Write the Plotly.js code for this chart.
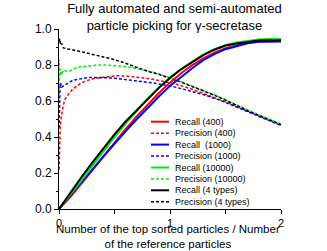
<!DOCTYPE html>
<html>
<head>
<meta charset="utf-8">
<script src="https://cdn.plot.ly/plotly-3.0.1.min.js"></script>
<style>html,body{margin:0;padding:0;background:#fff;}#chart{width:327px;height:251px;}</style>
</head>
<body>
<div id="chart"></div>
<script>
// ---- Data ----
const seriesNames = ['400', '1000', '10000', '4 types'];
const legendLabels = ['Recall (400)', 'Precision (400)', 'Recall  (1000)', 'Precision (1000)',
                      'Recall (10000)', 'Precision (10000)', 'Recall (4 types)', 'Precision (4 types)'];
const xTitle = 'Number of the top sorted particles / Number<br>of the reference particles';

// Recall curves (solid)
const recallX = [0, 0.1, 0.2, 0.3, 0.4, 0.5, 0.6, 0.7, 0.8, 0.9, 1.0, 1.1, 1.2, 1.3, 1.4, 1.5, 1.6, 1.7, 1.8, 1.9, 2.0];
const recall400   = [0, 0.065, 0.14, 0.217, 0.293, 0.37, 0.443, 0.514, 0.581, 0.644, 0.702, 0.754, 0.799, 0.837, 0.868, 0.893, 0.909, 0.923, 0.931, 0.933, 0.933];
const recall1000  = [0, 0.071, 0.145, 0.219, 0.292, 0.364, 0.432, 0.498, 0.563, 0.625, 0.684, 0.735, 0.782, 0.827, 0.86, 0.888, 0.906, 0.921, 0.929, 0.93, 0.93];
const recall10000 = [0, 0.077, 0.158, 0.239, 0.32, 0.399, 0.475, 0.547, 0.614, 0.675, 0.73, 0.778, 0.82, 0.858, 0.888, 0.91, 0.925, 0.933, 0.941, 0.944, 0.944];
const recall4types = [0, 0.089, 0.175, 0.258, 0.339, 0.415, 0.486, 0.55, 0.612, 0.673, 0.728, 0.776, 0.816, 0.855, 0.885, 0.908, 0.92, 0.928, 0.936, 0.937, 0.938];

// Precision curves (dashed)
const prec400X = [0.002, 0.005, 0.01, 0.02, 0.03, 0.04, 0.055, 0.07, 0.1, 0.13, 0.16, 0.2, 0.25, 0.3, 0.37, 0.45, 0.52, 0.6, 0.68, 0.76, 0.85, 0.93, 1.03, 1.18, 1.33, 1.48, 1.63, 1.72, 1.8, 1.9, 2.0];
const prec400  = [0.22, 0.34, 0.44, 0.51, 0.55, 0.58, 0.61, 0.625, 0.65, 0.67, 0.685, 0.70, 0.713, 0.722, 0.73, 0.737, 0.74, 0.739, 0.735, 0.728, 0.72, 0.712, 0.698, 0.67, 0.637, 0.6, 0.561, 0.538, 0.517, 0.491, 0.466];

const prec1000X = [0, 0.003, 0.006, 0.01, 0.015, 0.02, 0.03, 0.054, 0.084, 0.11, 0.14, 0.19, 0.26, 0.33, 0.41, 0.5, 0.56, 0.64, 0.71, 0.77, 0.85, 0.91, 1.03, 1.18, 1.33, 1.48, 1.63, 1.72, 1.8, 1.9, 2.0];
const prec1000  = [0.45, 0.6, 0.65, 0.69, 0.70, 0.674, 0.68, 0.689, 0.704, 0.71, 0.717, 0.724, 0.73, 0.731, 0.73, 0.727, 0.722, 0.717, 0.711, 0.707, 0.70, 0.693, 0.68, 0.656, 0.63, 0.597, 0.559, 0.537, 0.516, 0.49, 0.464];

const prec10000X = [0, 0.002, 0.005, 0.01, 0.015, 0.02, 0.03, 0.045, 0.06, 0.084, 0.11, 0.14, 0.19, 0.26, 0.33, 0.41, 0.5, 0.56, 0.64, 0.71, 0.77, 0.85, 0.9, 1.0, 1.1, 1.2, 1.3, 1.4, 1.5, 1.6, 1.7, 1.8, 1.9, 2.0];
const prec10000  = [0.6, 0.83, 0.72, 0.78, 0.763, 0.744, 0.755, 0.772, 0.768, 0.763, 0.77, 0.78, 0.79, 0.796, 0.799, 0.80, 0.798, 0.794, 0.788, 0.78, 0.772, 0.76, 0.75, 0.73, 0.707, 0.683, 0.66, 0.634, 0.607, 0.578, 0.549, 0.523, 0.497, 0.472];

const prec4typesX = [0.003, 0.008, 0.015, 0.025, 0.04, 0.06, 0.08, 0.1, 0.14, 0.2, 0.26, 0.33, 0.41, 0.48, 0.56, 0.64, 0.71, 0.8, 0.9, 1.0, 1.1, 1.2, 1.3, 1.4, 1.5, 1.6, 1.7, 1.8, 1.9, 2.0];
const prec4types  = [0.93, 0.945, 0.91, 0.92, 0.895, 0.89, 0.889, 0.887, 0.883, 0.874, 0.865, 0.856, 0.846, 0.833, 0.818, 0.8, 0.782, 0.765, 0.748, 0.728, 0.705, 0.68, 0.658, 0.632, 0.605, 0.575, 0.546, 0.52, 0.493, 0.469];

const xTickVals = [0, 1, 2];
const xTickText = ['0', '1', '2'];
const yTickVals = [0, 0.2, 0.4, 0.6, 0.8, 1.0];
const yTickText = ['0.0', '0.2', '0.4', '0.6', '0.8', '1.0'];

// ---- Styles ----
const colors = ['#ff0000', '#0000ff', '#00ee00', '#000000'];
const FONT = '"Liberation Sans", Arial, sans-serif';

const recallYs = [recall400, recall1000, recall10000, recall4types];
const precXs = [prec400X, prec1000X, prec10000X, prec4typesX];
const precYs = [prec400, prec1000, prec10000, prec4types];

const traces = [];
for (let i = 0; i < 4; i++) {
  traces.push({x: precXs[i], y: precYs[i], mode: 'lines', type: 'scatter',
    name: legendLabels[2*i+1], line: {color: colors[i], width: 1.5, dash: '3px,2px'}, showlegend: false});
}
for (let i = 0; i < 4; i++) {
  traces.push({x: recallX, y: recallYs[i], mode: 'lines', type: 'scatter',
    name: legendLabels[2*i], line: {color: colors[i], width: 2}, showlegend: false});
}

// plot area in pixels
const L = 59, R = 281, T = 29, B = 209;
const px2paperX = p => (p - L) / (R - L);
const px2paperY = p => (B - p) / (B - T);

const legendRowY = [121.7, 133.2, 144.6, 156, 167.5, 178.9, 190.3, 201.7];
const shapes = [], annotations = [];
for (let k = 0; k < 8; k++) {
  const c = colors[Math.floor(k/2)];
  const solid = (k % 2 === 0);
  shapes.push({type: 'line', xref: 'paper', yref: 'paper',
    x0: px2paperX(151), x1: px2paperX(169), y0: px2paperY(legendRowY[k]), y1: px2paperY(legendRowY[k]),
    line: {color: c, width: solid ? 2 : 1.5, dash: solid ? 'solid' : '3px,2px'}});
  annotations.push({xref: 'paper', yref: 'paper', x: px2paperX(173), y: px2paperY(legendRowY[k]),
    xanchor: 'left', yanchor: 'middle', text: legendLabels[k], showarrow: false,
    font: {family: FONT, size: 9, color: '#000'}});
}
// x-axis title, placed tight under the tick labels as in the reference
annotations.push({xref: 'paper', yref: 'paper', x: px2paperX(168), y: px2paperY(251),
  xanchor: 'center', yanchor: 'bottom', text: xTitle, showarrow: false, borderpad: 0,
  font: {family: FONT, size: 11.5, color: '#000'}});

const layout = {
  width: 327, height: 251,
  margin: {l: L, r: 327 - R, t: T, b: 251 - B, pad: 0},
  paper_bgcolor: '#fff', plot_bgcolor: '#fff',
  font: {family: FONT, size: 12, color: '#000'},
  showlegend: false,
  title: {text: 'Fully automated and semi-automated<br>particle picking for γ-secretase',
    font: {family: FONT, size: 13, color: '#000'},
    xref: 'paper', x: 0.52, xanchor: 'center', yref: 'container', y: 0.947, yanchor: 'top'},
  xaxis: {range: [0, 2], tickvals: xTickVals, ticktext: xTickText, ticks: 'outside', ticklen: 4,
    tickwidth: 1, tickcolor: '#000', showline: true, linecolor: '#000', linewidth: 1,
    showgrid: false, zeroline: false, tickfont: {family: FONT, size: 11}, ticklabelstandoff: 0,
    minor: {dtick: 0.5, ticks: 'outside', ticklen: 4, tickcolor: '#000', showgrid: false}},
  yaxis: {range: [0, 1], tickvals: yTickVals, ticktext: yTickText, ticks: 'outside', ticklen: 4,
    tickwidth: 1, tickcolor: '#000', showline: true, linecolor: '#000', linewidth: 1,
    showgrid: false, zeroline: false, tickfont: {family: FONT, size: 12},
    minor: {dtick: 0.1, ticks: 'outside', ticklen: 2, tickcolor: '#000', showgrid: false}},
  shapes: shapes,
  annotations: annotations
};

Plotly.newPlot('chart', traces, layout, {displayModeBar: false, staticPlot: true});
</script>
</body>
</html>
